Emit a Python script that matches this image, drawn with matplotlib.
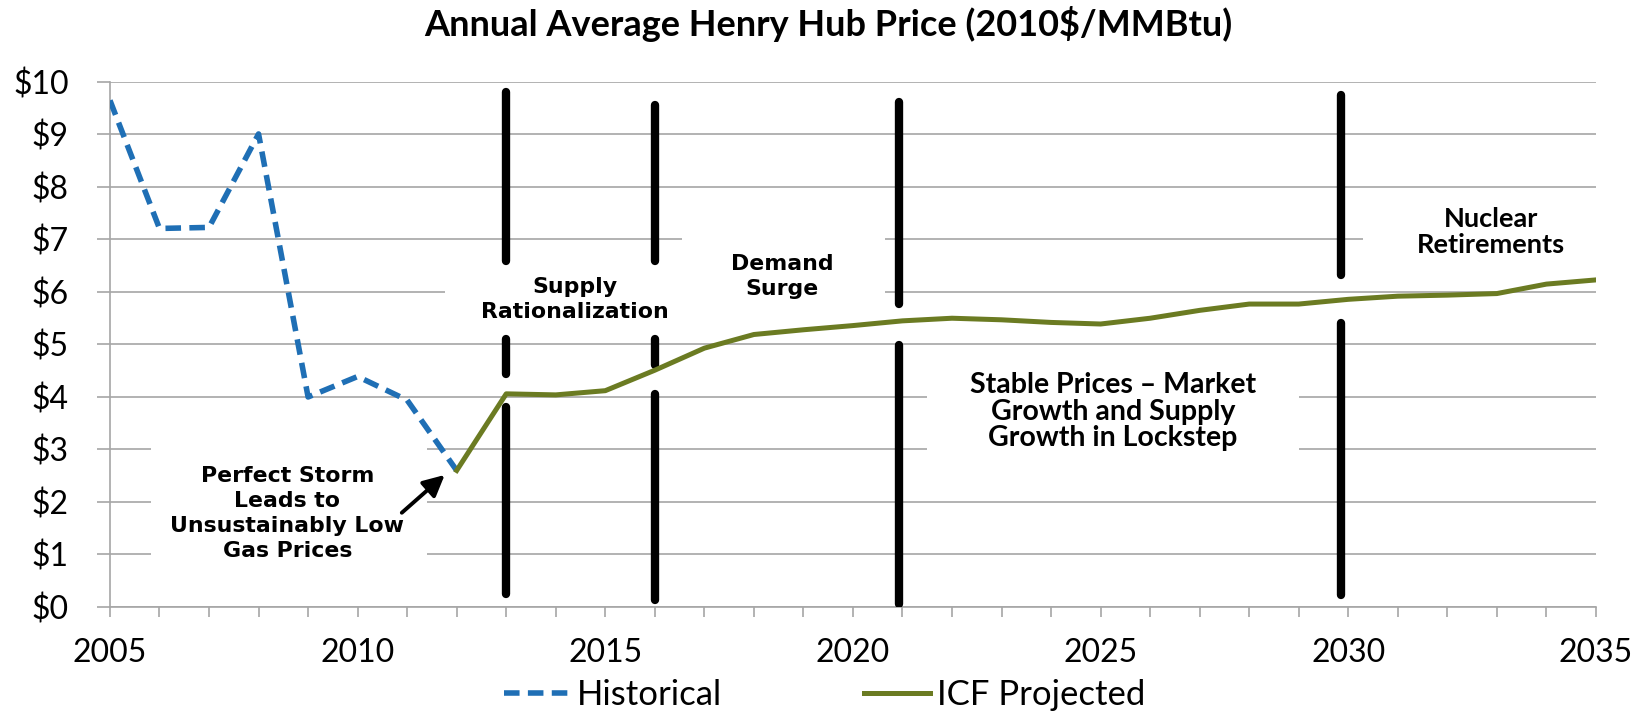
import matplotlib
matplotlib.use("Agg")
import matplotlib.pyplot as plt
from matplotlib.patches import Rectangle

# ---- data ----
hist_years = [2005, 2006, 2007, 2008, 2009, 2010, 2011, 2012]
hist_prices = [9.65, 7.21, 7.23, 9.01, 4.00, 4.39, 3.94, 2.60]
proj_years = list(range(2012, 2036))
proj_prices = [2.60, 4.06, 4.04, 4.12, 4.51, 4.93, 5.19, 5.28, 5.36, 5.45, 5.50, 5.47,
               5.42, 5.39, 5.50, 5.65, 5.77, 5.77, 5.86, 5.92, 5.94, 5.97, 6.15, 6.23]
y_ticks = [0, 1, 2, 3, 4, 5, 6, 7, 8, 9, 10]
y_labels = ["$0", "$1", "$2", "$3", "$4", "$5", "$6", "$7", "$8", "$9", "$10"]
x_major = [2005, 2010, 2015, 2020, 2025, 2030, 2035]
x_labels = ["2005", "2010", "2015", "2020", "2025", "2030", "2035"]
title = "Annual Average Henry Hub Price (2010$/MMBtu)"

# period divider bars: x position and visible segments (y0, y1)
divider_x = [2013.0, 2016.0, 2020.93, 2029.85]
divider_segments = [
    [(0.24, 3.80), (4.44, 5.10), (6.59, 9.80)],
    [(0.14, 4.06), (4.60, 5.10), (6.59, 9.57)],
    [(0.05, 4.99), (5.77, 9.62)],
    [(0.22, 5.41), (6.32, 9.76)],
]

BLUE = "#1f6fb5"
GREEN = "#6b7b22"
GRID = "#a6a6a6"

fig = plt.figure(figsize=(16.46, 7.11), dpi=100)
ax = fig.add_axes([0.0668, 0.1463, 0.9028, 0.7384])
ax.set_xlim(2005, 2035)
ax.set_ylim(0, 10)

ax.set_axisbelow(True)
ax.grid(axis="y", color=GRID, lw=1.2)
for s in ["top", "right"]:
    ax.spines[s].set_visible(False)
for s in ["left", "bottom"]:
    ax.spines[s].set_color(GRID)
    ax.spines[s].set_linewidth(1.2)

ax.set_yticks(y_ticks)
ax.set_yticklabels(y_labels, fontfamily="Lato", fontsize=23)
ax.set_xticks(x_major)
ax.set_xticklabels(x_labels, fontfamily="Lato", fontsize=23)
ax.set_xticks(list(range(2005, 2036)), minor=True)
ax.tick_params(axis="y", length=9.5, width=1.2, color=GRID, pad=20)
ax.tick_params(axis="x", which="both", length=7.5, width=1.2, color=GRID, pad=15, direction="out")

# white masks behind the annotation texts (hide gridlines)
masks = [
    (2005.83, 0.55, 5.57, 2.75),
    (2011.76, 5.10, 4.8, 1.49),
    (2016.54, 5.70, 4.11, 1.65),
    (2021.50, 2.60, 7.50, 1.80),
    (2030.29, 6.40, 5.5, 1.30),
]
for (mx, my, mw, mh) in masks:
    ax.add_patch(Rectangle((mx, my), mw, mh, facecolor="white", edgecolor="none", zorder=1))

# divider bars
for x, segs in zip(divider_x, divider_segments):
    for (y0, y1) in segs:
        ax.plot([x, x], [y0, y1], color="black", lw=6, solid_capstyle="round", zorder=3)

# series
ax.plot(hist_years, hist_prices, color=BLUE, lw=4, ls=(0, (2.8, 1.5)),
        dash_capstyle="butt", zorder=4, label="Historical")
ax.plot(proj_years, proj_prices, color=GREEN, lw=3.6, zorder=5, label="ICF Projected",
        solid_joinstyle="round")

# annotations
wide = dict(fontfamily="DejaVu Sans", fontweight="bold", fontsize=15.8, ha="center",
            va="center", color="black", zorder=6, linespacing=1.3)
narrow = dict(fontfamily="Lato", fontweight="bold", ha="center",
              va="center", color="black", zorder=6)
ax.text(2008.58, 1.78, "Perfect Storm\nLeads to\nUnsustainably Low\nGas Prices", **wide)
ax.text(2014.39, 5.85, "Supply\nRationalization", **wide)
ax.text(2018.57, 6.30, "Demand\nSurge", **wide)
ax.text(2025.25, 3.72, "Stable Prices \u2013 Market\nGrowth and Supply\nGrowth in Lockstep",
        fontsize=20.5, linespacing=1.03, **narrow)
ax.text(2032.88, 7.14, "Nuclear\nRetirements", fontsize=19.5, linespacing=1.08, **narrow)

ax.annotate("", xy=(2011.8, 2.55), xytext=(2010.85, 1.76),
            arrowprops=dict(arrowstyle="-|>", lw=2.8, color="black", mutation_scale=32),
            zorder=6)

fig.text(0.503, 0.966, title, ha="center", va="center", fontfamily="Lato",
         fontweight="bold", fontsize=26)

leg = fig.legend(loc="center", bbox_to_anchor=(0.501, 0.0225), ncol=2, frameon=False,
                 prop={"family": "Lato", "size": 25}, handlelength=1.9,
                 handletextpad=0.2, columnspacing=4.1)

fig.savefig("out.png", dpi=100)
